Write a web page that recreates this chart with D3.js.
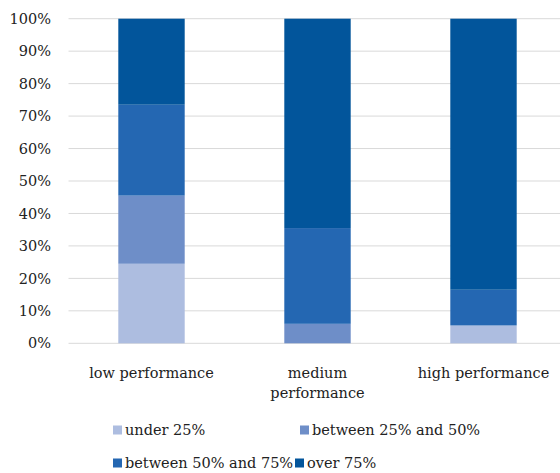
<!DOCTYPE html>
<html>
<head>
<meta charset="utf-8">
<script src="https://cdn.jsdelivr.net/npm/d3@7"></script>
<style>
  html, body { margin: 0; padding: 0; background: #fff; }
  svg { display: block; }
  text { font-family: "DejaVu Serif", "Liberation Serif", serif; fill: #222; }
</style>
</head>
<body>
<svg id="chart" width="560" height="473"></svg>
<script>
// Share of each band per performance group (percent)
const categories = [["low performance"], ["medium", "performance"], ["high performance"]];
const categoryKeys = ["low", "medium", "high"];
const seriesNames = ["under 25%", "between 25% and 50%", "between 50% and 75%", "over 75%"];
const under25 = [24.5, 0, 5.5];
const between25and50 = [21, 6, 0];
const between50and75 = [28, 29.5, 11];
const over75 = [26.5, 64.5, 83.5];
const yTicks = [0, 10, 20, 30, 40, 50, 60, 70, 80, 90, 100];
const colors = ["#adbde0", "#6e8ec8", "#2467b2", "#02559b"];

const seriesValues = [under25, between25and50, between50and75, over75];
const rows = categoryKeys.map((k, i) => {
  const r = { key: k };
  seriesNames.forEach((s, j) => { r[s] = seriesValues[j][i]; });
  return r;
});
const stacked = d3.stack().keys(seriesNames)(rows);

const svg = d3.select("#chart");
const plotLeft = 68.5, plotTop = 18.7, plotBottom = 343.3;

const x = d3.scaleBand().domain(categoryKeys).range([plotLeft, 566.5])
  .paddingInner(0.6).paddingOuter(0.3);
const y = d3.scaleLinear().domain([0, 100]).range([plotBottom, plotTop]);

// gridlines
svg.append("g").selectAll("line").data(yTicks).join("line")
  .attr("x1", plotLeft).attr("x2", 560)
  .attr("y1", d => y(d)).attr("y2", d => y(d))
  .attr("stroke", "#d9d9d9").attr("stroke-width", 1);

// y axis labels
const yAxis = d3.axisLeft(y).tickValues(yTicks).tickFormat(d => d + "%").tickSize(0).tickPadding(0);
const yg = svg.append("g").attr("transform", "translate(51,0)").call(yAxis);
yg.select(".domain").remove();
yg.selectAll("text").style("font-family", "DejaVu Serif, serif").style("font-size", "14.5px").attr("fill", "#222");

// stacked bars
svg.append("g").selectAll("g").data(stacked).join("g")
  .attr("fill", (d, i) => colors[i])
  .selectAll("rect").data(d => d).join("rect")
  .attr("x", d => x(d.data.key))
  .attr("width", x.bandwidth())
  .attr("y", d => y(d[1]))
  .attr("height", d => y(d[0]) - y(d[1]));

// category labels
const xl = svg.append("g");
categoryKeys.forEach((k, i) => {
  const t = xl.append("text")
    .attr("x", x(k) + x.bandwidth() / 2)
    .attr("y", 378)
    .attr("text-anchor", "middle")
    .style("font-size", "14.5px");
  categories[i].forEach((line, j) => {
    t.append("tspan").attr("x", x(k) + x.bandwidth() / 2).attr("dy", j === 0 ? 0 : 20).text(line);
  });
});

// legend
const legendPos = [[113, 430], [300, 430], [113, 463], [295, 463]];
const lg = svg.append("g");
seriesNames.forEach((s, i) => {
  const [lx, ly] = legendPos[i];
  lg.append("rect").attr("x", lx).attr("y", ly - 4.5).attr("width", 9).attr("height", 9).attr("fill", colors[i]);
  lg.append("text").attr("x", lx + 12).attr("y", ly + 5).style("font-size", "14.5px").text(s);
});
</script>
</body>
</html>
